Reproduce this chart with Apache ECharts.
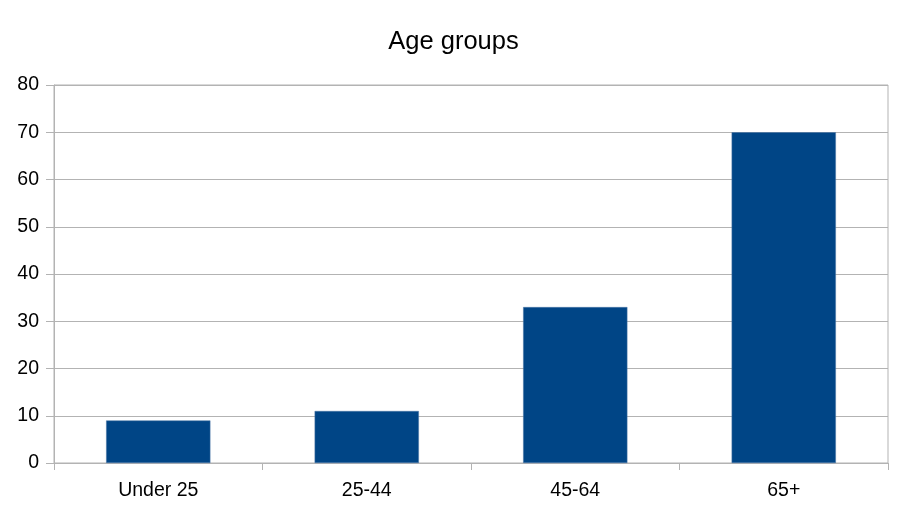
<!DOCTYPE html>
<html>
<head>
<meta charset="utf-8">
<script src="https://cdn.jsdelivr.net/npm/echarts@6/dist/echarts.min.js"></script>
<style>
html, body { margin: 0; padding: 0; background: #fff; }
#chart { width: 907px; height: 510px; }
</style>
</head>
<body>
<div id="chart"></div>
<script>
var categories = ['Under 25', '25-44', '45-64', '65+'];
var values = [9, 11, 33, 70];

var option = {
    animation: false,
    backgroundColor: '#ffffff',
    title: {
        text: 'Age groups',
        left: 'center',
        top: 24,
        textStyle: {
            fontFamily: 'Liberation Sans',
            fontSize: 25.5,
            fontWeight: 'normal',
            color: '#000'
        }
    },
    grid: {
        left: 54,
        right: 19,
        top: 85,
        bottom: 47,
        show: true,
        borderColor: '#b3b3b3',
        borderWidth: 1
    },
    xAxis: {
        type: 'category',
        data: categories,
        axisLine: { lineStyle: { color: '#b3b3b3' } },
        axisTick: { show: true, length: 7, lineStyle: { color: '#b3b3b3' } },
        axisLabel: {
            fontFamily: 'Liberation Sans',
            fontSize: 19.5,
            color: '#000',
            margin: 18
        }
    },
    yAxis: {
        type: 'value',
        min: 0,
        max: 80,
        interval: 10,
        axisLine: { show: true, lineStyle: { color: '#b3b3b3' } },
        axisTick: { show: true, length: 8, lineStyle: { color: '#b3b3b3' } },
        splitLine: { lineStyle: { color: '#b3b3b3' } },
        axisLabel: {
            fontFamily: 'Liberation Sans',
            fontSize: 19.5,
            color: '#000',
            margin: 15
        }
    },
    series: [{
        type: 'bar',
        data: values,
        barWidth: '50%',
        itemStyle: {
            color: '#004586',
            borderColor: '#4a77a6',
            borderWidth: 0.5
        }
    }]
};

var chart = echarts.init(document.getElementById('chart'));
chart.setOption(option);
</script>
</body>
</html>
